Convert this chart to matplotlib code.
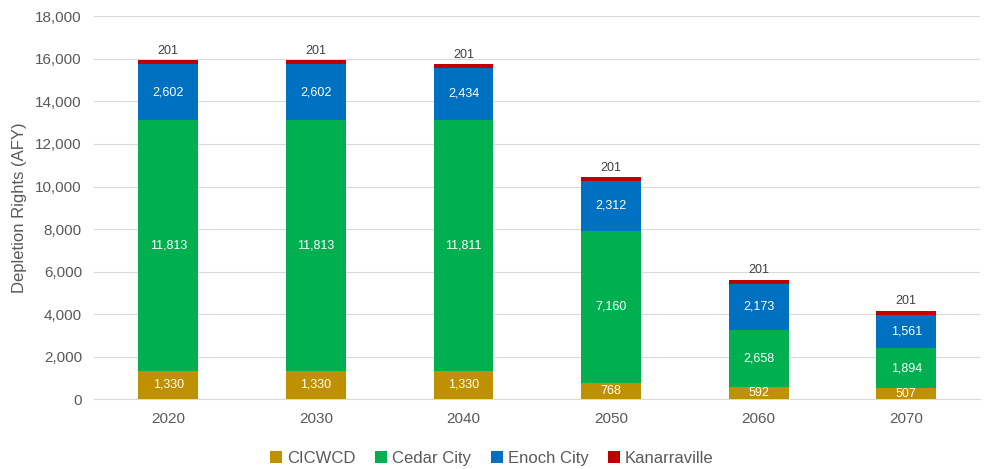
import numpy as np
import matplotlib.pyplot as plt

plt.rcParams['font.family'] = ['Liberation Sans', 'DejaVu Sans']

years = ['2020', '2030', '2040', '2050', '2060', '2070']
cicwcd = [1330, 1330, 1330, 768, 592, 507]
cedar = [11813, 11813, 11811, 7160, 2658, 1894]
enoch = [2602, 2602, 2434, 2312, 2173, 1561]
kanarra = [201, 201, 201, 201, 201, 201]

series = [('CICWCD', cicwcd, '#BF9000'),
          ('Cedar City', cedar, '#00B050'),
          ('Enoch City', enoch, '#0070C0'),
          ('Kanarraville', kanarra, '#C00000')]

fig = plt.figure(figsize=(9.84, 4.69), dpi=100)
ax = fig.add_axes([0.096, 0.149, 0.9, 0.816])

x = np.arange(len(years))
bottom = np.zeros(len(years))
for name, vals, color in series:
    vals = np.array(vals)
    ax.bar(x, vals, 0.405, bottom=bottom, color=color, label=name, zorder=3)
    for xi, b, v in zip(x, bottom, vals):
        if name == 'Kanarraville':
            ax.text(xi, b + v + 150, f'{v:,}', ha='center', va='bottom',
                    fontsize=9, color='#404040')
        else:
            ax.text(xi, b + v / 2, f'{v:,}', ha='center', va='center',
                    fontsize=9, color='white')
    bottom += vals

ax.set_xlim(-0.5, len(years) - 0.5)
ax.set_ylim(0, 18000)
ax.set_yticks(np.arange(0, 18001, 2000))
ax.yaxis.set_major_formatter(plt.FuncFormatter(lambda v, p: f'{int(v):,}'))
ax.set_xticks(x)
ax.set_xticklabels(years)
ax.tick_params(axis='both', length=0, labelsize=11, colors='#595959')
ax.tick_params(axis='x', pad=9)
ax.tick_params(axis='y', pad=9)
ax.grid(axis='y', color='#D9D9D9', linewidth=0.8, zorder=0)
for s in ['top', 'right', 'left']:
    ax.spines[s].set_visible(False)
ax.spines['bottom'].set_color('#D9D9D9')
ax.set_ylabel('Depletion Rights (AFY)', fontsize=12, color='#595959', labelpad=6)

fig.legend(loc='lower center', ncol=4, frameon=False, fontsize=12,
           bbox_to_anchor=(0.5, -0.025), handlelength=0.7, handleheight=0.7,
           columnspacing=1.2, handletextpad=0.3, labelcolor='#595959')

fig.savefig('out.png', dpi=100)
